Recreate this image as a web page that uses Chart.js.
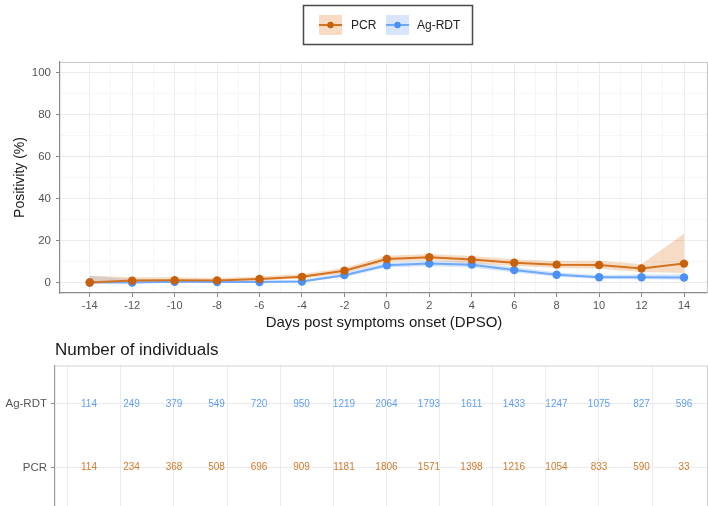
<!DOCTYPE html>
<html>
<head>
<meta charset="utf-8">
<script src="https://cdn.jsdelivr.net/npm/chart.js@4.4.1/dist/chart.umd.min.js"></script>
<style>
  html, body { margin: 0; padding: 0; background: #fff; overflow: hidden; }
  #wrap { position: relative; width: 708px; height: 506px; overflow: hidden; }
  canvas { display: block; }
</style>
</head>
<body>
<div id="wrap">
  <div style="position:absolute;left:0;top:0;width:708px;height:335px"><canvas id="c1" width="708" height="335"></canvas></div>
  <div style="position:absolute;left:0;top:335px;width:708px;height:171px"><canvas id="c2" width="708" height="171"></canvas></div>
</div>
<script>
// ---- data ----
const days = [-14, -12, -10, -8, -6, -4, -2, 0, 2, 4, 6, 8, 10, 12, 14];
const xTicks = [-14, -12, -10, -8, -6, -4, -2, 0, 2, 4, 6, 8, 10, 12, 14];
const yTicks = [0, 20, 40, 60, 80, 100];

const pcrPos   = [0, 0.9, 1.1, 1.0, 1.7, 2.7, 5.6, 11.2, 12.0, 10.9, 9.4, 8.5, 8.3, 6.7, 9.0];
const pcrLow   = [0, 0.1, 0.3, 0.3, 0.9, 1.8, 4.4, 9.8, 10.5, 9.3, 7.8, 6.9, 6.5, 5.0, 4.5];
const pcrHigh  = [3.2, 2.5, 2.5, 2.2, 2.8, 4.0, 7.0, 12.7, 13.6, 12.6, 11.1, 10.2, 10.3, 8.8, 23.2];

const agPos    = [0, 0, 0.3, 0.2, 0.2, 0.5, 3.5, 8.2, 9.0, 8.5, 5.9, 3.7, 2.5, 2.5, 2.4];
const agLow    = [0, 0, 0, 0, 0, 0.1, 2.6, 7.1, 7.7, 7.2, 4.8, 2.7, 1.7, 1.5, 1.3];
const agHigh   = [3.2, 1.5, 1.6, 1.0, 0.9, 1.2, 4.7, 9.5, 10.4, 10.0, 7.3, 4.9, 3.6, 3.8, 3.9];

const tableRows = ['Ag-RDT', 'PCR'];
const agCounts  = [114, 249, 379, 549, 720, 950, 1219, 2064, 1793, 1611, 1433, 1247, 1075, 827, 596];
const pcrCounts = [114, 234, 368, 508, 696, 909, 1181, 1806, 1571, 1398, 1216, 1054, 833, 590, 33];
const tableGrid = [-15, -12.5, -10, -7.5, -5, -2.5, 0, 2.5, 5, 7.5, 10, 12.5];

const seriesNames = ['PCR', 'Ag-RDT'];

// ---- styles ----
const PCR_LINE = '#d4731f', PCR_PT = '#c9600c', PCR_BAND = 'rgba(228,150,80,0.33)', PCR_SW = '#f7dcc3', PCR_TXT = '#d27a2c';
const AG_LINE = '#6fa9fb', AG_PT = '#4a90f5', AG_BAND = 'rgba(110,165,255,0.28)', AG_SW = '#d7e6fd', AG_TXT = '#5f9ef7';
const FONT = "'Liberation Sans', Arial, sans-serif";
const GRID = '#ebebeb';

Chart.defaults.font.family = FONT;
Chart.defaults.animation = false;

const pts = arr => days.map((d, i) => ({ x: d, y: arr[i] }));
const setTicks = list => s => { s.ticks = list.map(v => ({ value: v })); };
const noPad = s => { s.paddingLeft = 0; s.paddingRight = 0; s.paddingTop = 0; s.paddingBottom = 0; };

const legendPlugin = {
  id: 'boxLegend',
  afterDraw(chart) {
    const ctx = chart.ctx;
    ctx.save();
    ctx.strokeStyle = '#4a4a4a';
    ctx.lineWidth = 1.5;
    ctx.strokeRect(303.5, 5.5, 169, 39);
    const items = [
      { name: seriesNames[0], sx: 319, tx: 351, sw: PCR_SW, line: PCR_LINE, pt: PCR_PT },
      { name: seriesNames[1], sx: 386, tx: 417, sw: AG_SW, line: AG_LINE, pt: AG_PT }
    ];
    items.forEach(it => {
      ctx.fillStyle = it.sw;
      ctx.fillRect(it.sx, 15, 23, 20);
      ctx.strokeStyle = it.line;
      ctx.lineWidth = 2;
      ctx.beginPath(); ctx.moveTo(it.sx, 25); ctx.lineTo(it.sx + 23, 25); ctx.stroke();
      ctx.fillStyle = it.pt;
      ctx.beginPath(); ctx.arc(it.sx + 11.5, 25, 3.2, 0, Math.PI * 2); ctx.fill();
      ctx.fillStyle = '#222';
      ctx.font = '12px ' + FONT;
      ctx.textBaseline = 'middle';
      ctx.textAlign = 'left';
      ctx.fillText(it.name, it.tx, 25.5);
    });
    ctx.restore();
  }
};

const panelBorder = (color) => ({
  id: 'panelBorder',
  beforeDatasetsDraw(chart) {
    const { ctx, chartArea: a } = chart;
    ctx.save();
    ctx.strokeStyle = color;
    ctx.lineWidth = 1.2;
    ctx.beginPath();
    ctx.moveTo(a.left, a.top + 0.5); ctx.lineTo(a.right, a.top + 0.5);
    ctx.moveTo(a.right - 0.5, a.top); ctx.lineTo(a.right - 0.5, a.bottom);
    ctx.stroke();
    ctx.restore();
  }
});

// ---- top chart ----
new Chart(document.getElementById('c1'), {
  type: 'line',
  data: {
    datasets: [
      { label: 'PCR', data: pts(pcrPos), borderColor: PCR_LINE, backgroundColor: PCR_PT, pointBackgroundColor: PCR_PT,
        pointBorderColor: PCR_PT, pointBorderWidth: 0, borderWidth: 2, pointRadius: 4.2, fill: false, tension: 0 },
      { label: 'Ag-RDT', data: pts(agPos), borderColor: AG_LINE, backgroundColor: AG_PT, pointBackgroundColor: AG_PT,
        pointBorderColor: AG_PT, pointBorderWidth: 0, borderWidth: 2, pointRadius: 4.2, fill: false, tension: 0 },
      { label: 'pcrLow', data: pts(pcrLow), borderWidth: 0, pointRadius: 0, fill: false, borderColor: 'transparent' },
      { label: 'pcrHigh', data: pts(pcrHigh), borderWidth: 0, pointRadius: 0, fill: 2, backgroundColor: PCR_BAND, borderColor: 'transparent' },
      { label: 'agLow', data: pts(agLow), borderWidth: 0, pointRadius: 0, fill: false, borderColor: 'transparent' },
      { label: 'agHigh', data: pts(agHigh), borderWidth: 0, pointRadius: 0, fill: 4, backgroundColor: AG_BAND, borderColor: 'transparent' }
    ]
  },
  options: {
    responsive: false,
    devicePixelRatio: 1,
    layout: { autoPadding: false, padding: { top: 62, left: 0, right: 0, bottom: 0 } },
    plugins: { legend: { display: false }, tooltip: { enabled: false } },
    scales: {
      x: {
        type: 'linear', min: -15.4, max: 15.13,
        afterBuildTicks: setTicks(xTicks),
        afterFit: s => { s.height = 42; noPad(s); },
        grid: { color: GRID, lineWidth: 1, tickLength: 4, tickColor: '#888', drawOnChartArea: true },
        border: { display: true, color: '#8a8a8a', width: 1.2 },
        ticks: { color: '#555', font: { size: 11 }, padding: 2, maxRotation: 0, autoSkip: false,
                 callback: v => String(v) },
        title: { display: true, text: 'Days post symptoms onset (DPSO)', color: '#1a1a1a',
                 font: { size: 15 }, padding: { top: 0, bottom: 3 } }
      },
      xMinor: {
        type: 'linear', position: 'bottom', min: -15.4, max: 15.13,
        afterBuildTicks: s => { s.ticks = days.slice(0, -1).map(d => ({ value: d + 1 })); },
        afterFit: s => { s.height = 0; noPad(s); },
        grid: { color: '#f2f2f2', lineWidth: 0.7, drawTicks: false },
        border: { display: false },
        ticks: { display: false }
      },
      y: {
        type: 'linear', min: -5, max: 105,
        afterBuildTicks: setTicks(yTicks),
        afterFit: s => { s.width = 60; noPad(s); },
        grid: { color: GRID, lineWidth: 1, tickLength: 4, tickColor: '#888' },
        border: { display: true, color: '#8a8a8a', width: 1.2 },
        ticks: { color: '#555', font: { size: 11.5 }, padding: 5 },
        title: { display: true, text: 'Positivity (%)', color: '#1a1a1a', font: { size: 14 },
                 padding: { top: 12, bottom: 0 } }
      },
      yMinor: {
        type: 'linear', position: 'left', min: -5, max: 105,
        afterBuildTicks: s => { s.ticks = [10, 30, 50, 70, 90].map(v => ({ value: v })); },
        afterFit: s => { s.width = 0; noPad(s); },
        grid: { color: '#f2f2f2', lineWidth: 0.7, drawTicks: false },
        border: { display: false },
        ticks: { display: false }
      }
    }
  },
  plugins: [legendPlugin, panelBorder('#c9c9c9')]
});

// ---- table chart ----
const tableTitle = {
  id: 'tableTitle',
  afterDraw(chart) {
    const ctx = chart.ctx;
    ctx.save();
    ctx.fillStyle = '#1a1a1a';
    ctx.font = '17px ' + FONT;
    ctx.textBaseline = 'middle';
    ctx.textAlign = 'left';
    ctx.fillText('Number of individuals', 55, 15);
    ctx.restore();
  }
};
const countLabels = {
  id: 'countLabels',
  afterDatasetsDraw(chart) {
    const ctx = chart.ctx;
    ctx.save();
    ctx.font = '10px ' + FONT;
    ctx.textAlign = 'center';
    ctx.textBaseline = 'middle';
    chart.data.datasets.forEach((ds, di) => {
      const meta = chart.getDatasetMeta(di);
      ctx.fillStyle = ds.textColor;
      meta.data.forEach((el, i) => {
        ctx.fillText(String(ds.counts[i]), el.x, el.y);
      });
    });
    ctx.restore();
  }
};

new Chart(document.getElementById('c2'), {
  type: 'scatter',
  data: {
    datasets: [
      { label: 'Ag-RDT', data: days.map(d => ({ x: d, y: 1 })), counts: agCounts, textColor: AG_TXT, pointRadius: 0 },
      { label: 'PCR', data: days.map(d => ({ x: d, y: 2 })), counts: pcrCounts, textColor: PCR_TXT, pointRadius: 0 }
    ]
  },
  options: {
    responsive: false,
    devicePixelRatio: 1,
    layout: { autoPadding: false, padding: { top: 30.5, left: 0, right: 0, bottom: 0 } },
    plugins: { legend: { display: false }, tooltip: { enabled: false } },
    scales: {
      x: {
        type: 'linear', min: -15.6, max: 15.13,
        afterBuildTicks: setTicks(tableGrid),
        afterFit: s => { s.height = 0; noPad(s); },
        grid: { color: GRID, lineWidth: 1, drawTicks: false },
        border: { display: false },
        ticks: { display: false }
      },
      y: {
        type: 'linear', min: 0.4, max: 2.6, reverse: true,
        afterBuildTicks: s => { s.ticks = tableRows.map((r, i) => ({ value: i + 1 })); },
        afterFit: s => { s.width = 55; noPad(s); },
        grid: { color: GRID, lineWidth: 1, tickLength: 4, tickColor: '#888' },
        border: { display: true, color: '#9a9a9a', width: 1.2 },
        ticks: { color: '#555', font: { size: 11.5 }, padding: 4,
                 callback: v => tableRows[Math.round(v) - 1] }
      }
    }
  },
  plugins: [tableTitle, countLabels, panelBorder('#d4d4d4')]
});
</script>
</body>
</html>
